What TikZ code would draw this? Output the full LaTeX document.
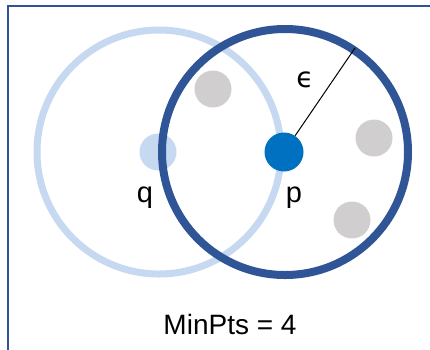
\documentclass[tikz,border=0pt]{standalone}
\usepackage{fontspec}
\setmainfont{Liberation Sans}
\newfontfamily\greekfont{DejaVu Sans}
\usepackage{tikz}
\usetikzlibrary{arrows}

\definecolor{ringlight}{RGB}{198,217,241}
\definecolor{ringdark}{RGB}{47,85,151}
\definecolor{corept}{RGB}{0,112,192}
\definecolor{greypt}{RGB}{208,206,206}

\tikzset{
	dot/.style = {circle, inner sep = 0pt, minimum size = 37pt},
	lbl/.style = {inner sep = 0pt, font = \fontsize{29}{30}\selectfont}
}

\begin{document}
\begin{tikzpicture}[x = 1pt, y = -1pt]
	\useasboundingbox (0,0) rectangle (430,349);
	\draw [ringdark, line width = 1.5pt] (8,360) -- (8,6) -- (440,6);
	%\draw [thick] (0,0) rectangle (430,349);
	\draw [ringlight, line width = 7pt] (159,152) circle (122);
	\node [dot, fill = ringlight] (q) at (158,152) {};
	\node [dot, fill = greypt] (g1) at (213,89) {};
	\node [dot, fill = greypt] (g2) at (374,138) {};
	\node [dot, fill = greypt] (g3) at (352,220) {};
	\draw [ringdark, line width = 8pt] (285,152) circle (123);
	\node [dot, fill = corept, minimum size = 39pt] (p) at (284,152) {};
	\coordinate (rim) at (355,48);
	\draw [line width = 1pt] (p) -- (rim);
	\node [lbl, anchor = base] (qlbl) at (145,202) {q};
	\node [lbl, anchor = base] (plbl) at (294,202) {p};
	\node [lbl, font = \greekfont\fontsize{28}{30}\selectfont] (eps) at (305,80) {ϵ};
	\node [lbl, font = \fontsize{28}{30}\selectfont, anchor = base] (minpts) at (230,334) {MinPts = 4};
\end{tikzpicture}
\end{document}
